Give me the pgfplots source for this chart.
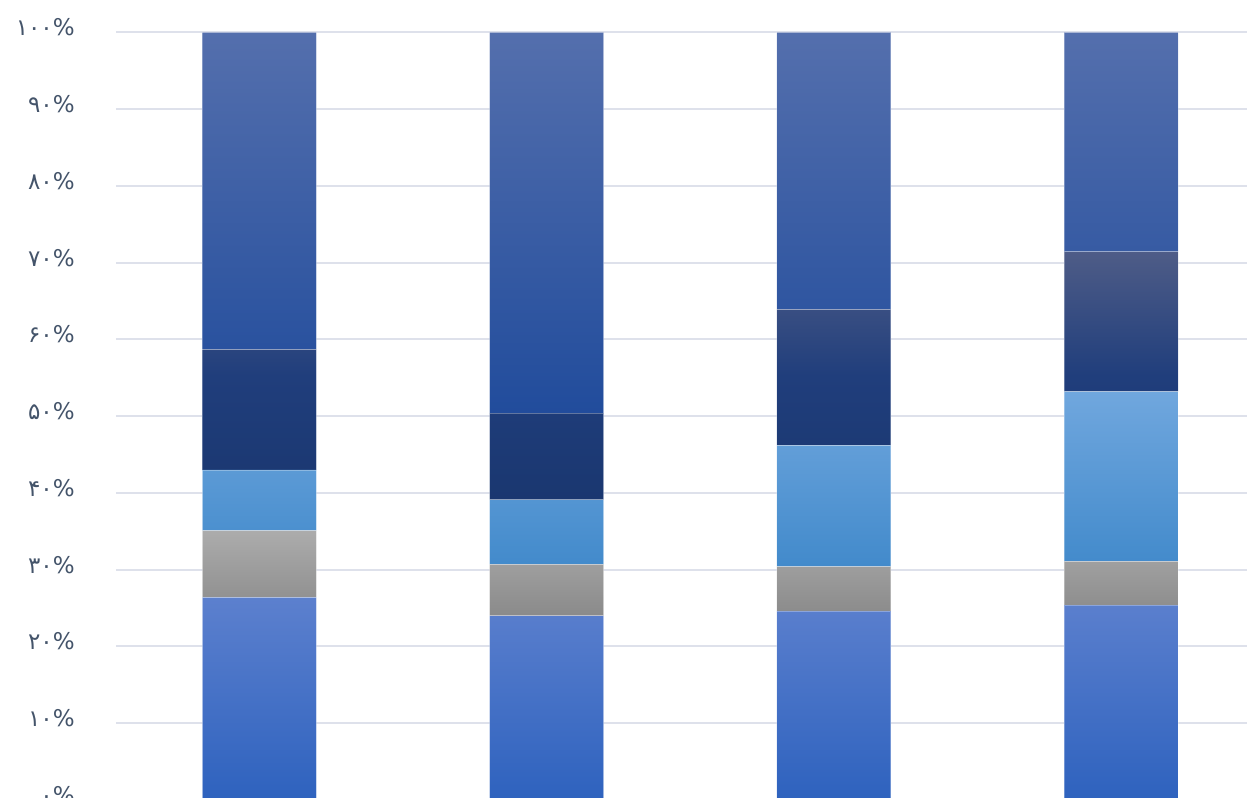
\documentclass[border=0pt]{standalone}
\usepackage{pgfplots}
\pgfplotsset{compat=1.18}
\usepackage{fontspec}
\newfontfamily\fa{DejaVu Sans}
\definecolor{lbl}{RGB}{68,84,106}
\definecolor{grd}{RGB}{222,225,235}
\begin{document}
\begin{tikzpicture}
\begin{axis}[
  x=287.2pt, y=7.678pt,
  xmin=-0.5, xmax=3.5, ymin=0, ymax=100,
  ybar stacked, bar width=114pt,
  axis line style={draw=none},
  major tick length=0pt,
  xtick=\empty,
  ytick={0,10,...,100},
  yticklabels={۰\%,۱۰\%,۲۰\%,۳۰\%,۴۰\%,۵۰\%,۶۰\%,۷۰\%,۸۰\%,۹۰\%,۱۰۰\%},
  yticklabel style={font=\fa\fontsize{23}{27}\selectfont, text=lbl, anchor=base east, inner sep=0pt, xshift=-41pt, yshift=-3.5pt},
  ymajorgrids, grid style={grd, line width=2pt},
  every axis plot/.append style={draw=white, draw opacity=0.3, line width=0.75pt},
]
\addplot[top color={rgb,255:red,92;green,128;blue,206}, bottom color={rgb,255:red,46;green,98;blue,190}] coordinates {(0,26.4) (1,24.0) (2,24.6) (3,25.4)};
\addplot[top color={rgb,255:red,172;green,172;blue,172}, bottom color={rgb,255:red,138;green,138;blue,138}] coordinates {(0,8.7) (1,6.7) (2,5.8) (3,5.7)};
\addplot[top color={rgb,255:red,112;green,167;blue,222}, bottom color={rgb,255:red,66;green,138;blue,203}] coordinates {(0,7.9) (1,8.4) (2,15.8) (3,22.1)};
\addplot[top color={rgb,255:red,78;green,92;blue,135}, bottom color={rgb,255:red,26;green,55;blue,112}, middle color={rgb,255:red,32;green,62;blue,124}] coordinates {(0,15.7) (1,11.3) (2,17.7) (3,18.2)};
\addplot[top color={rgb,255:red,84;green,111;blue,173}, bottom color={rgb,255:red,33;green,76;blue,156}] coordinates {(0,41.3) (1,49.6) (2,36.1) (3,28.6)};
\end{axis}
\pgfresetboundingbox
\path[use as bounding box] ([xshift=-115.9pt,yshift=2.1pt]current axis.south west) rectangle ([xshift=-17.6pt,yshift=32.3pt]current axis.north east);
\end{tikzpicture}
\end{document}
